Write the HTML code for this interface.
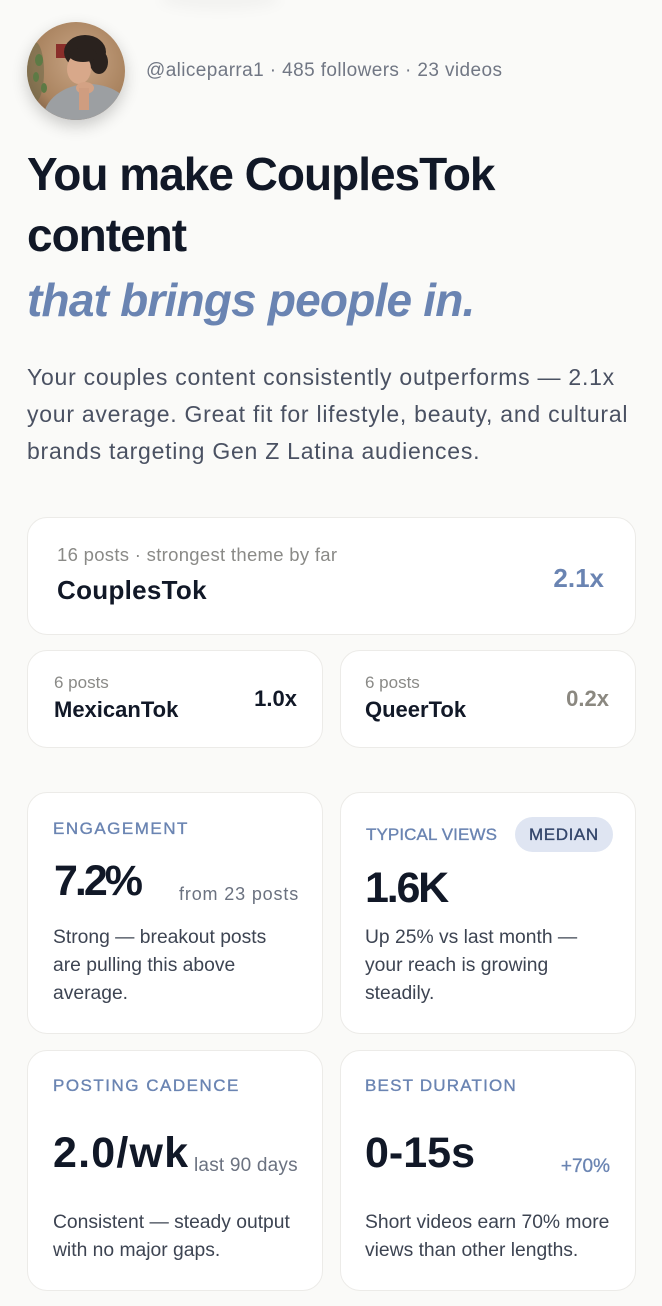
<!DOCTYPE html>
<html>
<head>
<meta charset="utf-8">
<style>
  html,body{margin:0;padding:0;}
  body{width:662px;height:1306px;background:#fafaf8;position:relative;overflow:hidden;font-family:"Liberation Sans",Arial,sans-serif;}
  .a{position:absolute;white-space:nowrap;line-height:1;}
  .card{position:absolute;background:#fff;border:1.5px solid #ecebe8;border-radius:20px;box-sizing:border-box;}
  .dark{color:#111827;}
  .h{font-size:46px;font-weight:bold;letter-spacing:-1px;color:#111827;}
  .lbl{font-size:17px;color:#6a84b2;-webkit-text-stroke:0.35px #6a84b2;}
  .big{font-size:43px;font-weight:bold;color:#111827;}
  .desc{font-size:19.3px;line-height:28px;color:#3d4452;white-space:nowrap;}
  .posts{font-size:17px;color:#8a8a87;}
  .blue{color:#6a84b2;}
</style>
</head>
<body>
<div style="position:absolute;left:160px;top:-12px;width:120px;height:22px;border-radius:50%;background:rgba(0,0,0,0.03);filter:blur(6px);"></div>

<!-- avatar -->
<div style="position:absolute;left:27px;top:22px;width:98px;height:98px;border-radius:50%;box-shadow:0 6px 16px rgba(0,0,0,0.2);overflow:hidden;">
<svg width="98" height="98" viewBox="0 0 98 98">
  <defs>
    <radialGradient id="bg" cx="0.55" cy="0.4" r="0.7">
      <stop offset="0" stop-color="#c9a585"/>
      <stop offset="0.7" stop-color="#a9835f"/>
      <stop offset="1" stop-color="#7a5c43"/>
    </radialGradient>
  </defs>
  <rect width="98" height="98" fill="url(#bg)"/>
  <ellipse cx="8" cy="50" rx="9" ry="30" fill="#6f6a4a" opacity="0.6"/>
  <ellipse cx="12" cy="38" rx="4" ry="6" fill="#5d7a45"/>
  <ellipse cx="9" cy="55" rx="3" ry="5" fill="#5d7a45"/>
  <ellipse cx="17" cy="66" rx="3" ry="5" fill="#5d7a45"/>
  <rect x="29" y="22" width="11" height="14" fill="#8a2e2a"/>
  <ellipse cx="58" cy="30" rx="21" ry="17" fill="#2a221e"/>
  <ellipse cx="72" cy="40" rx="9" ry="12" fill="#2a221e"/>
  <ellipse cx="52" cy="47" rx="12" ry="15" fill="#d8a88a"/>
  <ellipse cx="56" cy="33" rx="14" ry="7" fill="#2a221e"/>
  <ellipse cx="62" cy="98" rx="46" ry="36" fill="#9c9fa2"/>
  <ellipse cx="58" cy="66" rx="9" ry="6" fill="#d4a284"/>
  <rect x="52" y="66" width="10" height="22" fill="#cf9d80"/>
</svg>
</div>

<div class="a" style="left:146px;top:60.5px;font-size:19px;color:#717784;letter-spacing:0.4px;">@aliceparra1 · 485 followers · 23 videos</div>

<div class="a h" style="left:27px;top:151px;">You make CouplesTok</div>
<div class="a h" style="left:27px;top:212px;">content</div>
<div class="a h" style="left:27px;top:277px;font-style:italic;color:#6a84b2;letter-spacing:-0.8px;">that brings people in.</div>

<div class="a" style="left:27px;top:359.2px;font-size:23px;line-height:37px;color:#4a5162;letter-spacing:0.75px;">Your couples content consistently outperforms — 2.1x<br>your average. Great fit for lifestyle, beauty, and cultural<br>brands targeting Gen Z Latina audiences.</div>

<!-- theme cards -->
<div class="card" style="left:27px;top:517px;width:609px;height:118px;"></div>
<div class="a" style="left:57px;top:546.3px;font-size:18.5px;color:#8a8a87;letter-spacing:0.3px;">16 posts · strongest theme by far</div>
<div class="a dark" style="left:57px;top:577px;font-size:26px;font-weight:bold;letter-spacing:0.3px;">CouplesTok</div>
<div class="a blue" style="right:58px;top:565px;font-size:26px;font-weight:bold;">2.1x</div>

<div class="card" style="left:27px;top:650px;width:296px;height:98px;"></div>
<div class="a posts" style="left:54px;top:673.6px;">6 posts</div>
<div class="a dark" style="left:54px;top:699.4px;font-size:22px;font-weight:bold;">MexicanTok</div>
<div class="a dark" style="right:365px;top:688.4px;font-size:22px;font-weight:bold;">1.0x</div>

<div class="card" style="left:340px;top:650px;width:296px;height:98px;"></div>
<div class="a posts" style="left:365px;top:673.6px;">6 posts</div>
<div class="a dark" style="left:365px;top:699.4px;font-size:22px;font-weight:bold;">QueerTok</div>
<div class="a" style="right:53px;top:688.4px;font-size:22px;font-weight:bold;color:#8b8880;">0.2x</div>

<!-- stat cards row 1 -->
<div class="card" style="left:27px;top:792px;width:296px;height:242px;"></div>
<div class="a lbl" style="left:53px;top:819.6px;letter-spacing:1.5px;">ENGAGEMENT</div>
<div class="a big" style="left:54px;top:859.6px;letter-spacing:-3px;">7.2%</div>
<div class="a" style="left:179px;top:884.8px;font-size:18px;color:#6b7280;letter-spacing:0.85px;">from 23 posts</div>
<div class="a desc" style="left:53px;top:924.3px;">Strong — breakout posts<br>are pulling this above<br>average.</div>

<div class="card" style="left:340px;top:792px;width:296px;height:242px;"></div>
<div class="a lbl" style="left:366px;top:825.6px;letter-spacing:0.1px;">TYPICAL VIEWS</div>
<div style="position:absolute;left:515px;top:817px;width:98px;height:35px;border-radius:18px;background:#dfe5f2;"></div>
<div class="a" style="left:529px;top:825.6px;font-size:17px;color:#34466b;-webkit-text-stroke:0.35px #34466b;letter-spacing:0.6px;">MEDIAN</div>
<div class="a big" style="left:365px;top:866.6px;letter-spacing:-2.2px;">1.6K</div>
<div class="a desc" style="left:365px;top:924.3px;">Up 25% vs last month —<br>your reach is growing<br>steadily.</div>

<!-- stat cards row 2 -->
<div class="card" style="left:27px;top:1050px;width:296px;height:241px;"></div>
<div class="a lbl" style="left:53px;top:1076.6px;letter-spacing:1.5px;">POSTING CADENCE</div>
<div class="a big" style="left:53px;top:1131.6px;letter-spacing:1.2px;">2.0/wk</div>
<div class="a" style="left:194px;top:1155.9px;font-size:19px;color:#6b7280;letter-spacing:0.2px;">last 90 days</div>
<div class="a desc" style="left:53px;top:1209.3px;">Consistent — steady output<br>with no major gaps.</div>

<div class="card" style="left:340px;top:1050px;width:296px;height:241px;"></div>
<div class="a lbl" style="left:365px;top:1076.6px;letter-spacing:1.2px;">BEST DURATION</div>
<div class="a big" style="left:365px;top:1131.6px;">0-15s</div>
<div class="a blue" style="right:52px;top:1156.9px;font-size:19px;-webkit-text-stroke:0.3px #6a84b2;">+70%</div>
<div class="a desc" style="left:365px;top:1209.3px;">Short videos earn 70% more<br>views than other lengths.</div>
</body>
</html>
